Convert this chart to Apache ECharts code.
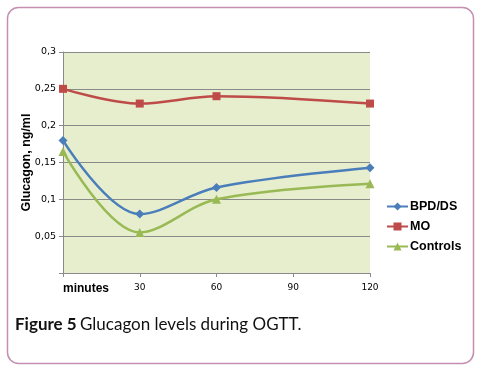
<!DOCTYPE html>
<html><head><meta charset="utf-8">
<script src="https://cdn.jsdelivr.net/npm/echarts@6/dist/echarts.min.js"></script>
<style>html,body{margin:0;padding:0;background:#fff}#c{width:483px;height:373px}</style>
</head><body><div id="c"></div>
<script>
var minutes = [0, 30, 60, 120];
var xTickLabels = {0: 'minutes', 30: '30', 60: '60', 90: '90', 120: '120'};
var bpdds = [0.18, 0.08, 0.116, 0.143];
var mo = [0.25, 0.23, 0.24, 0.23];
var controls = [0.165, 0.055, 0.10, 0.121];
var seriesNames = ['BPD/DS', 'MO', 'Controls'];

function pairs(vals){ return minutes.map(function(m,i){ return [m, vals[i]]; }); }

var chart = echarts.init(document.getElementById('c'));
chart.setOption({
  animation: false,
  graphic: [
    {type:'rect', shape:{x:7.5,y:7.5,width:466,height:356,r:11}, style:{fill:'#fff', stroke:'#c48fb0', lineWidth:1.5}, z:-10},
    {type:'rect', shape:{x:63,y:52,width:307,height:221}, style:{fill:'#e6eecd'}, z:-5, silent:true},
    {type:'text', left:15, top:316, style:{rich:{b:{fontFamily:'Lato', fontWeight:'bold', fontSize:17, fill:'#111'}, n:{fontFamily:'Lato', fontSize:17, fill:'#111'}}, text:'{b|Figure 5} {n|Glucagon levels during OGTT.}'}}
  ],
  grid: {left:63, top:52, width:307, height:221, containLabel:false},
  legend: {
    orient:'vertical', left:381, top:195, itemGap:7, itemWidth:21, itemHeight:10,
    data: seriesNames,
    textStyle:{fontFamily:'Liberation Sans', fontWeight:'bold', fontSize:12.5, color:'#000', padding:[0,0,0,-3]}
  },
  xAxis: {
    type:'value', min:0, max:120, interval:30,
    axisLine:{show:true, lineStyle:{color:'#8a8a8a'}},
    axisTick:{show:true, length:4, lineStyle:{color:'#8a8a8a'}},
    splitLine:{show:false},
    axisLabel:{margin:10, color:'#000', fontFamily:'DejaVu Sans', fontSize:9,
      formatter:function(v){ return v===0 ? '{m|minutes}' : xTickLabels[v]; },
      rich:{m:{fontFamily:'Liberation Sans', fontWeight:'bold', fontSize:12, color:'#000', padding:[0,0,0,46]}}
    }
  },
  yAxis: {
    type:'value', min:0, max:0.3, interval:0.05,
    name:'Glucagon, ng/ml', nameLocation:'middle', nameGap:30, nameMoveOverlap:false,
    nameTextStyle:{fontFamily:'Liberation Sans', fontWeight:'bold', fontSize:12.5, color:'#000'},
    axisLine:{show:true, lineStyle:{color:'#8a8a8a'}},
    axisTick:{show:true, length:4, lineStyle:{color:'#8a8a8a'}},
    splitLine:{show:true, lineStyle:{color:'#8a8a8a', width:1}},
    axisLabel:{color:'#000', fontFamily:'DejaVu Sans', fontSize:9.5, margin:7,
      formatter:function(v){ return v===0 ? '' : String(+v.toFixed(2)).replace('.', ','); }}
  },
  series: [
    {name:seriesNames[0], type:'line', smooth:0.35, data:pairs(bpdds), symbol:'diamond', symbolSize:9,
      lineStyle:{color:'#4a7ebb', width:2.5}, itemStyle:{color:'#4a7ebb'}},
    {name:seriesNames[1], type:'line', smooth:0.35, data:pairs(mo), symbol:'rect', symbolSize:8,
      lineStyle:{color:'#be4b48', width:2.5}, itemStyle:{color:'#be4b48'}},
    {name:seriesNames[2], type:'line', smooth:0.35, data:pairs(controls), symbol:'triangle', symbolSize:9,
      lineStyle:{color:'#98b954', width:2.5}, itemStyle:{color:'#98b954'}}
  ]
});
</script></body></html>
